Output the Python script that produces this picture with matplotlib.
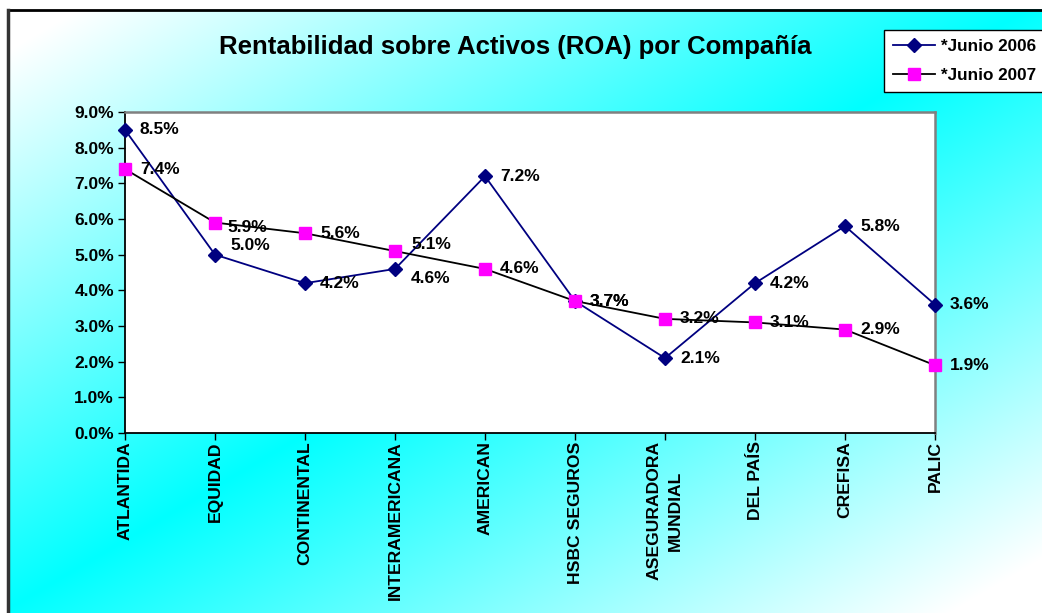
import numpy as np
import matplotlib
matplotlib.use('Agg')
import matplotlib.pyplot as plt
from matplotlib.ticker import FuncFormatter
from matplotlib.lines import Line2D

plt.rcParams['font.family'] = ['Liberation Sans', 'DejaVu Sans']
plt.rcParams['font.weight'] = 'bold'

companies = ['ATLANTIDA', 'EQUIDAD', 'CONTINENTAL', 'INTERAMERICANA', 'AMERICAN',
             'HSBC SEGUROS', 'ASEGURADORA\nMUNDIAL', 'DEL PAÍS', 'CREFISA', 'PALIC']
roa_2006 = [8.5, 5.0, 4.2, 4.6, 7.2, 3.7, 2.1, 4.2, 5.8, 3.6]
roa_2007 = [7.4, 5.9, 5.6, 5.1, 4.6, 3.7, 3.2, 3.1, 2.9, 1.9]
labels_2006 = ['8.5%', '5.0%', '4.2%', '4.6%', '7.2%', '3.7%', '2.1%', '4.2%', '5.8%', '3.6%']
labels_2007 = ['7.4%', '5.9%', '5.6%', '5.1%', '4.6%', '3.7%', '3.2%', '3.1%', '2.9%', '1.9%']

# label nudges in pixels (dx, dy), like hand moved excel labels
off_2006 = [(15, 0), (15, 9), (15, 0), (16, -10), (15, 0), (15, 0), (15, 0), (15, 0), (15, 0), (15, 0)]
off_2007 = [(15, 0), (12, -5), (15, 0), (16, 7), (15, 0), (15, 0), (15, 0), (15, 0), (15, 0), (15, 0)]

W, H = 1042, 613
fig = plt.figure(figsize=(W / 100, H / 100), dpi=100)

# background: white -> cyan -> white along the diagonal
bg = fig.add_axes([0, 0, 1, 1])
yy, xx = np.mgrid[0:H, 0:W]
s = xx / W + yy / H
r = np.clip(np.abs(s - 1.0) * 1.1, 0, 1)
img = np.dstack([r, np.ones_like(r), np.ones_like(r)])
# white strip outside the chart border
img[:9, :, :] = 1
img[:, :8, :] = 1
bg.imshow(img, aspect='auto', extent=[0, W, H, 0])
bg.plot([8, W], [9.5, 9.5], color='black', lw=2)
bg.plot([8, 8], [9.5, H], color='#333333', lw=2.5)
bg.set_xlim(0, W)
bg.set_ylim(H, 0)
bg.axis('off')

ax = fig.add_axes([125 / W, 1 - 433 / H, 810 / W, 321 / H])
ax.set_facecolor('white')
x = np.arange(len(companies))

ax.plot(x, roa_2006, color='#000080', lw=1.3, marker='D', ms=7,
        mfc='#000080', mec='#000080', zorder=3, clip_on=False)
ax.plot(x, roa_2007, color='black', lw=1.3, marker='s', ms=8,
        mfc='#FF00FF', mec='#FF00FF', zorder=4, clip_on=False)

for i in range(len(x)):
    ax.annotate(labels_2006[i], (x[i], roa_2006[i]), xytext=off_2006[i],
                textcoords='offset pixels', ha='left', va='center',
                fontsize=12.5, fontweight='bold', zorder=5, annotation_clip=False)
    ax.annotate(labels_2007[i], (x[i], roa_2007[i]), xytext=off_2007[i],
                textcoords='offset pixels', ha='left', va='center',
                fontsize=12.5, fontweight='bold', zorder=5, annotation_clip=False)

ax.set_xlim(0, 9)
ax.set_ylim(0, 9)
ax.set_yticks(np.arange(0, 10, 1))
ax.yaxis.set_major_formatter(FuncFormatter(lambda v, p: '{:.1f}%'.format(v)))
ax.set_xticks(x)
ax.set_xticklabels(companies, rotation=90, fontsize=12.6, fontweight='bold',
                   multialignment='center', linespacing=1.55)
ax.tick_params(axis='y', labelsize=12.5, length=5, width=1, pad=3)
ax.tick_params(axis='x', length=5, width=1, pad=1)
for t in ax.get_yticklabels():
    t.set_fontweight('bold')

for side in ['left', 'bottom']:
    ax.spines[side].set_color('black')
    ax.spines[side].set_linewidth(1.3)
for side in ['top', 'right']:
    ax.spines[side].set_color('#808080')
    ax.spines[side].set_linewidth(1.8)

fig.text(515 / W, 1 - 47 / H, 'Rentabilidad sobre Activos (ROA) por Compañía',
         ha='center', va='center', fontsize=18.5, fontweight='bold')

handles = [
    Line2D([], [], color='#000080', lw=1.3, marker='D', ms=7, mfc='#000080', mec='#000080'),
    Line2D([], [], color='black', lw=1.3, marker='s', ms=8, mfc='#FF00FF', mec='#FF00FF'),
]
leg = fig.legend(handles, ['*Junio 2006', '*Junio 2007'], loc='upper left',
                 bbox_to_anchor=(884 / W, 1 - 30 / H), frameon=True, fancybox=False,
                 edgecolor='black', fontsize=12.3, handlelength=2.5, labelspacing=0.85,
                 borderpad=0.5, handletextpad=0.35, borderaxespad=0)
leg.get_frame().set_linewidth(1.0)
leg.get_frame().set_facecolor('white')
leg.get_frame().set_alpha(1)

fig.savefig('out.png', dpi=100)
